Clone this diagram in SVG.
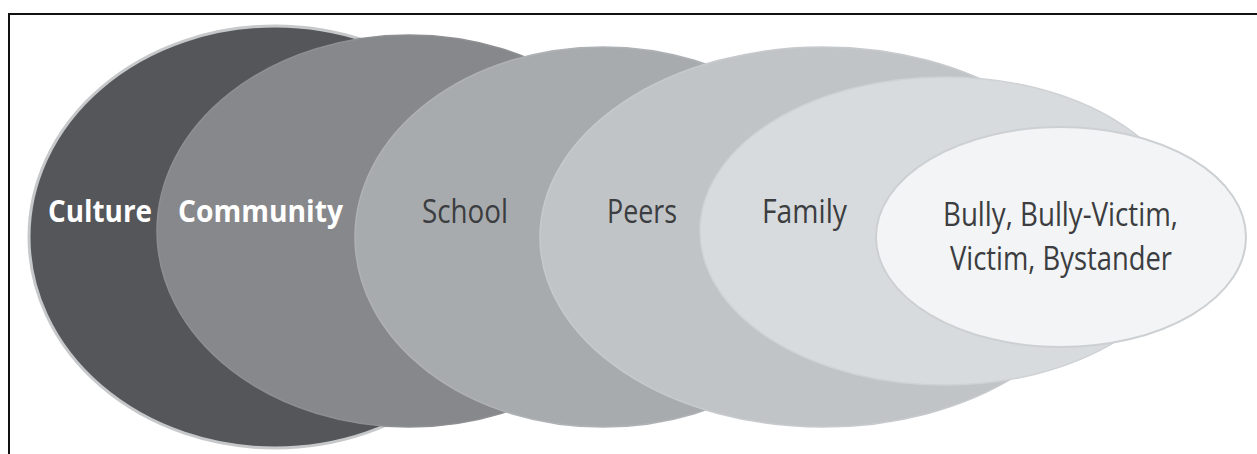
<svg xmlns="http://www.w3.org/2000/svg" width="1257" height="454" viewBox="0 0 1257 454">
<style>
.lbl{font-family:"Open Sans","Liberation Sans",sans-serif;font-size:33px;fill:#3b3d40}
.lblw{font-family:"Open Sans","Liberation Sans",sans-serif;font-size:31px;font-weight:bold;fill:#ffffff}
</style>
<rect x="0" y="0" width="1257" height="454" fill="#ffffff"/>
<path d="M9,454 V14 H1257" fill="none" stroke="#111111" stroke-width="2"/>
<g id="culture">
<ellipse cx="275" cy="237" rx="246" ry="211" fill="#54565a" stroke="#c6c8ca" stroke-width="3"/>
<text class="lblw" x="48" y="222" textLength="104" lengthAdjust="spacingAndGlyphs">Culture</text>
</g>
<g id="community">
<ellipse cx="409" cy="231" rx="252" ry="196" fill="#87888b" stroke="#8e8f92" stroke-width="1.5"/>
<text class="lblw" x="178" y="222" textLength="165" lengthAdjust="spacingAndGlyphs">Community</text>
</g>
<g id="school">
<ellipse cx="603" cy="237" rx="248" ry="190" fill="#a8abae" stroke="#afb2b5" stroke-width="1.5"/>
<text class="lbl" x="422" y="223" textLength="86" lengthAdjust="spacingAndGlyphs">School</text>
</g>
<g id="peers">
<ellipse cx="823" cy="237" rx="283" ry="190" fill="#c1c4c7" stroke="#c7cacd" stroke-width="1.5"/>
<text class="lbl" x="607" y="223" textLength="70" lengthAdjust="spacingAndGlyphs">Peers</text>
</g>
<g id="family">
<ellipse cx="945" cy="231" rx="245" ry="154" fill="#d8dbde" stroke="#cfd2d5" stroke-width="1.5"/>
<text class="lbl" x="762" y="223" textLength="85" lengthAdjust="spacingAndGlyphs">Family</text>
</g>
<g id="bully">
<ellipse cx="1061" cy="237" rx="185" ry="110" fill="#f2f4f5" stroke="#cdd0d2" stroke-width="2"/>
<text class="lbl" x="943" y="226" textLength="235" lengthAdjust="spacingAndGlyphs">Bully, Bully-Victim,</text>
<text class="lbl" x="950" y="270" textLength="222" lengthAdjust="spacingAndGlyphs">Victim, Bystander</text>
</g>
<g id="connectors"/>
</svg>
